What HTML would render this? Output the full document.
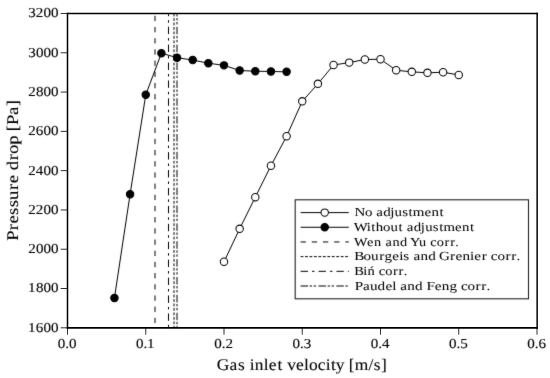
<!DOCTYPE html><html><head><meta charset="utf-8"><style>html,body{margin:0;padding:0;background:#fff;}svg{display:block;will-change:transform;}text{font-family:"Liberation Serif",serif;fill:#000;stroke:#000;stroke-width:0.1px;stroke-linejoin:round;text-rendering:geometricPrecision;-webkit-font-smoothing:antialiased;}</style></head><body>
<svg width="550" height="378" viewBox="0 0 550 378">
<defs><filter id="bl" x="0" y="0" width="550" height="378" filterUnits="userSpaceOnUse" color-interpolation-filters="sRGB"><feConvolveMatrix order="3" kernelMatrix="0.015 0.06 0.015 0.06 0.700 0.06 0.015 0.06 0.015" preserveAlpha="true"/></filter></defs>
<g filter="url(#bl)">
<rect width="550" height="378" fill="#fff"/>
<line x1="155.0" y1="13.5" x2="155.0" y2="327.8" stroke="#000" stroke-width="1" stroke-dasharray="5.3 5.885" stroke-dashoffset="8.88"/>
<line x1="168.5" y1="13.5" x2="168.5" y2="327.8" stroke="#000" stroke-width="1" stroke-dasharray="7.4 4.0 2.5 4.02" stroke-dashoffset="4.72"/>
<line x1="174.0" y1="13.5" x2="174.0" y2="327.8" stroke="#000" stroke-width="1" stroke-dasharray="2.8 1.66" stroke-dashoffset="4.32"/>
<line x1="177.0" y1="13.5" x2="177.0" y2="327.8" stroke="#000" stroke-width="1" stroke-dasharray="7.5 1.6 2.4 1.6 2.4 2.37" stroke-dashoffset="4.57"/>
<polyline points="224.00,261.80 239.65,228.80 255.30,197.17 270.95,165.74 286.60,136.27 302.25,101.31 317.90,83.82 333.55,64.97 349.20,62.61 364.85,59.47 380.50,59.27 396.15,70.27 411.80,71.84 427.45,72.82 443.10,72.23 458.75,74.98" fill="none" stroke="#000" stroke-width="1.0"/>
<polyline points="114.45,297.94 130.10,194.22 145.75,94.83 161.40,53.18 177.05,57.70 192.70,60.06 208.35,63.20 224.00,65.36 239.65,70.47 255.30,71.25 270.95,71.45 286.60,71.84" fill="none" stroke="#000" stroke-width="1.0"/>
<circle cx="224.00" cy="261.80" r="3.7" fill="#fff" stroke="#000" stroke-width="1.05"/>
<circle cx="239.65" cy="228.80" r="3.7" fill="#fff" stroke="#000" stroke-width="1.05"/>
<circle cx="255.30" cy="197.17" r="3.7" fill="#fff" stroke="#000" stroke-width="1.05"/>
<circle cx="270.95" cy="165.74" r="3.7" fill="#fff" stroke="#000" stroke-width="1.05"/>
<circle cx="286.60" cy="136.27" r="3.7" fill="#fff" stroke="#000" stroke-width="1.05"/>
<circle cx="302.25" cy="101.31" r="3.7" fill="#fff" stroke="#000" stroke-width="1.05"/>
<circle cx="317.90" cy="83.82" r="3.7" fill="#fff" stroke="#000" stroke-width="1.05"/>
<circle cx="333.55" cy="64.97" r="3.7" fill="#fff" stroke="#000" stroke-width="1.05"/>
<circle cx="349.20" cy="62.61" r="3.7" fill="#fff" stroke="#000" stroke-width="1.05"/>
<circle cx="364.85" cy="59.47" r="3.7" fill="#fff" stroke="#000" stroke-width="1.05"/>
<circle cx="380.50" cy="59.27" r="3.7" fill="#fff" stroke="#000" stroke-width="1.05"/>
<circle cx="396.15" cy="70.27" r="3.7" fill="#fff" stroke="#000" stroke-width="1.05"/>
<circle cx="411.80" cy="71.84" r="3.7" fill="#fff" stroke="#000" stroke-width="1.05"/>
<circle cx="427.45" cy="72.82" r="3.7" fill="#fff" stroke="#000" stroke-width="1.05"/>
<circle cx="443.10" cy="72.23" r="3.7" fill="#fff" stroke="#000" stroke-width="1.05"/>
<circle cx="458.75" cy="74.98" r="3.7" fill="#fff" stroke="#000" stroke-width="1.05"/>
<circle cx="114.45" cy="297.94" r="3.7" fill="#000" stroke="#000" stroke-width="1.05"/>
<circle cx="130.10" cy="194.22" r="3.7" fill="#000" stroke="#000" stroke-width="1.05"/>
<circle cx="145.75" cy="94.83" r="3.7" fill="#000" stroke="#000" stroke-width="1.05"/>
<circle cx="161.40" cy="53.18" r="3.7" fill="#000" stroke="#000" stroke-width="1.05"/>
<circle cx="177.05" cy="57.70" r="3.7" fill="#000" stroke="#000" stroke-width="1.05"/>
<circle cx="192.70" cy="60.06" r="3.7" fill="#000" stroke="#000" stroke-width="1.05"/>
<circle cx="208.35" cy="63.20" r="3.7" fill="#000" stroke="#000" stroke-width="1.05"/>
<circle cx="224.00" cy="65.36" r="3.7" fill="#000" stroke="#000" stroke-width="1.05"/>
<circle cx="239.65" cy="70.47" r="3.7" fill="#000" stroke="#000" stroke-width="1.05"/>
<circle cx="255.30" cy="71.25" r="3.7" fill="#000" stroke="#000" stroke-width="1.05"/>
<circle cx="270.95" cy="71.45" r="3.7" fill="#000" stroke="#000" stroke-width="1.05"/>
<circle cx="286.60" cy="71.84" r="3.7" fill="#000" stroke="#000" stroke-width="1.05"/>
<text transform="translate(67.20,347.60) scale(1.1000,1)" x="-8.54 -1.71 1.69" y="0" font-size="13.69" style="stroke-width:0.12px">0.0</text>
<text transform="translate(145.45,347.60) scale(1.1000,1)" x="-8.54 -1.71 1.40" y="0" font-size="13.69" style="stroke-width:0.12px">0.1</text>
<text transform="translate(223.70,347.60) scale(1.1000,1)" x="-8.54 -1.71 1.61" y="0" font-size="13.69" style="stroke-width:0.12px">0.2</text>
<text transform="translate(301.95,347.60) scale(1.1000,1)" x="-8.54 -1.71 1.65" y="0" font-size="13.69" style="stroke-width:0.12px">0.3</text>
<text transform="translate(380.20,347.60) scale(1.1000,1)" x="-8.54 -1.71 1.56" y="0" font-size="13.69" style="stroke-width:0.12px">0.4</text>
<text transform="translate(458.45,347.60) scale(1.1000,1)" x="-8.54 -1.71 1.61" y="0" font-size="13.69" style="stroke-width:0.12px">0.5</text>
<text transform="translate(536.70,347.60) scale(1.1000,1)" x="-8.54 -1.71 1.63" y="0" font-size="13.69" style="stroke-width:0.12px">0.6</text>
<text transform="translate(58.40,331.65) scale(1.1000,1)" x="-27.60 -20.55 -13.66 -6.83" y="0" font-size="13.69" style="stroke-width:0.12px">1600</text>
<text transform="translate(58.40,292.36) scale(1.1000,1)" x="-27.60 -20.48 -13.66 -6.83" y="0" font-size="13.69" style="stroke-width:0.12px">1800</text>
<text transform="translate(58.40,253.08) scale(1.1000,1)" x="-27.39 -20.48 -13.66 -6.83" y="0" font-size="13.69" style="stroke-width:0.12px">2000</text>
<text transform="translate(58.40,213.79) scale(1.1000,1)" x="-27.39 -20.56 -13.66 -6.83" y="0" font-size="13.69" style="stroke-width:0.12px">2200</text>
<text transform="translate(58.40,174.50) scale(1.1000,1)" x="-27.39 -20.61 -13.66 -6.83" y="0" font-size="13.69" style="stroke-width:0.12px">2400</text>
<text transform="translate(58.40,135.21) scale(1.1000,1)" x="-27.39 -20.55 -13.66 -6.83" y="0" font-size="13.69" style="stroke-width:0.12px">2600</text>
<text transform="translate(58.40,95.92) scale(1.1000,1)" x="-27.39 -20.48 -13.66 -6.83" y="0" font-size="13.69" style="stroke-width:0.12px">2800</text>
<text transform="translate(58.40,56.64) scale(1.1000,1)" x="-27.35 -20.48 -13.66 -6.83" y="0" font-size="13.69" style="stroke-width:0.12px">3000</text>
<text transform="translate(58.40,17.35) scale(1.1000,1)" x="-27.35 -20.56 -13.66 -6.83" y="0" font-size="13.69" style="stroke-width:0.12px">3200</text>
<text transform="translate(301.95,370.20) scale(1.0669,1)" x="-79.92 -67.95 -59.94 -53.14 -48.96 -44.29 -35.92 -31.10 -22.83 -17.81 -13.88 -5.55 2.04 6.51 14.84 22.29 27.24 31.79 39.94 43.84 49.58 62.38 67.26 74.12" y="0" font-size="16.32">Gas inlet velocity [m/s]</text>
<text transform="translate(17.50,170.65) rotate(-90) scale(1.1429,1)" x="-61.26 -52.12 -46.32 -38.73 -32.14 -25.63 -16.87 -11.08 -3.61 0.45 9.21 14.65 22.69 30.84 34.46 39.95 48.77 56.30" y="0" font-size="16.32">Pressure drop [Pa]</text>
<rect x="295.2" y="199.8" width="233.3" height="99.0" fill="#fff" stroke="#222" stroke-width="1.1"/>
<line x1="300.6" y1="212.60" x2="348.8" y2="212.60" stroke="#000" stroke-width="1.0"/>
<circle cx="324.70" cy="212.60" r="3.7" fill="#fff" stroke="#000" stroke-width="1.05"/>
<text transform="translate(354.70,216.40) scale(1.2088,1)" x="-0.18 8.48 14.56 17.83 23.54 29.40 32.94 39.34 44.61 48.09 57.70 63.46 70.07" y="0" font-size="12.39" style="stroke-width:0.03px">No adjustment</text>
<line x1="300.6" y1="227.28" x2="348.8" y2="227.28" stroke="#000" stroke-width="1.0"/>
<circle cx="324.70" cy="227.28" r="3.7" fill="#000" stroke="#000" stroke-width="1.05"/>
<text transform="translate(354.70,231.08) scale(1.1959,1)" x="-0.71 10.16 13.78 17.60 23.74 29.92 36.61 40.29 43.61 49.40 55.30 58.90 65.37 70.70 74.26 83.96 89.78 96.46" y="0" font-size="12.39" style="stroke-width:0.03px">Without adjustment</text>
<line x1="300.6" y1="241.96" x2="348.8" y2="241.96" stroke="#000" stroke-width="1.0" stroke-dasharray="5.3 5.885"/>
<text transform="translate(354.70,245.76) scale(1.1556,1)" x="-0.58 10.74 16.71 23.18 26.62 32.62 39.14 45.62 47.77 55.70 62.17 65.43 71.04 77.70 82.58 87.05" y="0" font-size="12.39" style="stroke-width:0.03px">Wen and Yu corr.</text>
<line x1="300.6" y1="256.64" x2="348.8" y2="256.64" stroke="#000" stroke-width="1.0" stroke-dasharray="2.8 1.66"/>
<text transform="translate(354.70,260.44) scale(1.2229,1)" x="-0.40 7.14 13.28 19.99 24.33 30.79 36.40 39.77 44.75 48.04 53.84 60.15 66.48 68.90 77.91 82.37 88.16 94.36 97.76 103.87 108.21 111.32 116.74 123.23 127.96 132.30" y="0" font-size="12.39" style="stroke-width:0.03px">Bourgeis and Grenier corr.</text>
<line x1="300.6" y1="271.32" x2="348.8" y2="271.32" stroke="#000" stroke-width="1.0" stroke-dasharray="7.4 4.0 2.5 4.02"/>
<text transform="translate(354.70,275.12) scale(1.1698,1)" x="-0.31 7.41 10.86 17.29 20.51 26.08 32.70 37.55 41.99" y="0" font-size="12.39" style="stroke-width:0.03px">Biń corr.</text>
<line x1="300.6" y1="286.00" x2="348.8" y2="286.00" stroke="#000" stroke-width="1.0" stroke-dasharray="7.5 1.6 2.4 1.6 2.4 2.37"/>
<text transform="translate(354.70,289.80) scale(1.2242,1)" x="0.01 6.73 12.45 18.72 25.12 30.64 33.94 37.19 42.93 49.18 55.47 58.64 65.49 71.21 77.46 83.74 86.82 92.18 98.62 103.30 107.61" y="0" font-size="12.39" style="stroke-width:0.03px">Paudel and Feng corr.</text>
</g>
<line x1="66.75" y1="13.5" x2="537.9" y2="13.5" stroke="#000" stroke-width="1.4"/>
<line x1="66.75" y1="327.9" x2="537.9" y2="327.9" stroke="#000" stroke-width="1.6"/>
<line x1="67.5" y1="12.8" x2="67.5" y2="328.7" stroke="#000" stroke-width="1.5"/>
<line x1="537.15" y1="12.8" x2="537.15" y2="328.7" stroke="#000" stroke-width="1.5"/>
<line x1="67.50" y1="327.9" x2="67.50" y2="334.7" stroke="#000" stroke-width="1.0" stroke-opacity="0.8"/>
<line x1="145.75" y1="327.9" x2="145.75" y2="334.7" stroke="#000" stroke-width="1.0" stroke-opacity="0.8"/>
<line x1="224.00" y1="327.9" x2="224.00" y2="334.7" stroke="#000" stroke-width="1.0" stroke-opacity="0.8"/>
<line x1="302.25" y1="327.9" x2="302.25" y2="334.7" stroke="#000" stroke-width="1.0" stroke-opacity="0.8"/>
<line x1="380.50" y1="327.9" x2="380.50" y2="334.7" stroke="#000" stroke-width="1.0" stroke-opacity="0.8"/>
<line x1="458.75" y1="327.9" x2="458.75" y2="334.7" stroke="#000" stroke-width="1.0" stroke-opacity="0.8"/>
<line x1="537.00" y1="327.9" x2="537.00" y2="334.7" stroke="#000" stroke-width="1.0" stroke-opacity="0.8"/>
<line x1="60.7" y1="327.80" x2="67.5" y2="327.80" stroke="#000" stroke-width="1.0" stroke-opacity="0.8"/>
<line x1="60.7" y1="288.51" x2="67.5" y2="288.51" stroke="#000" stroke-width="1.0" stroke-opacity="0.8"/>
<line x1="60.7" y1="249.23" x2="67.5" y2="249.23" stroke="#000" stroke-width="1.0" stroke-opacity="0.8"/>
<line x1="60.7" y1="209.94" x2="67.5" y2="209.94" stroke="#000" stroke-width="1.0" stroke-opacity="0.8"/>
<line x1="60.7" y1="170.65" x2="67.5" y2="170.65" stroke="#000" stroke-width="1.0" stroke-opacity="0.8"/>
<line x1="60.7" y1="131.36" x2="67.5" y2="131.36" stroke="#000" stroke-width="1.0" stroke-opacity="0.8"/>
<line x1="60.7" y1="92.07" x2="67.5" y2="92.07" stroke="#000" stroke-width="1.0" stroke-opacity="0.8"/>
<line x1="60.7" y1="52.79" x2="67.5" y2="52.79" stroke="#000" stroke-width="1.0" stroke-opacity="0.8"/>
<line x1="60.7" y1="13.50" x2="67.5" y2="13.50" stroke="#000" stroke-width="1.0" stroke-opacity="0.8"/>
</svg></body></html>
